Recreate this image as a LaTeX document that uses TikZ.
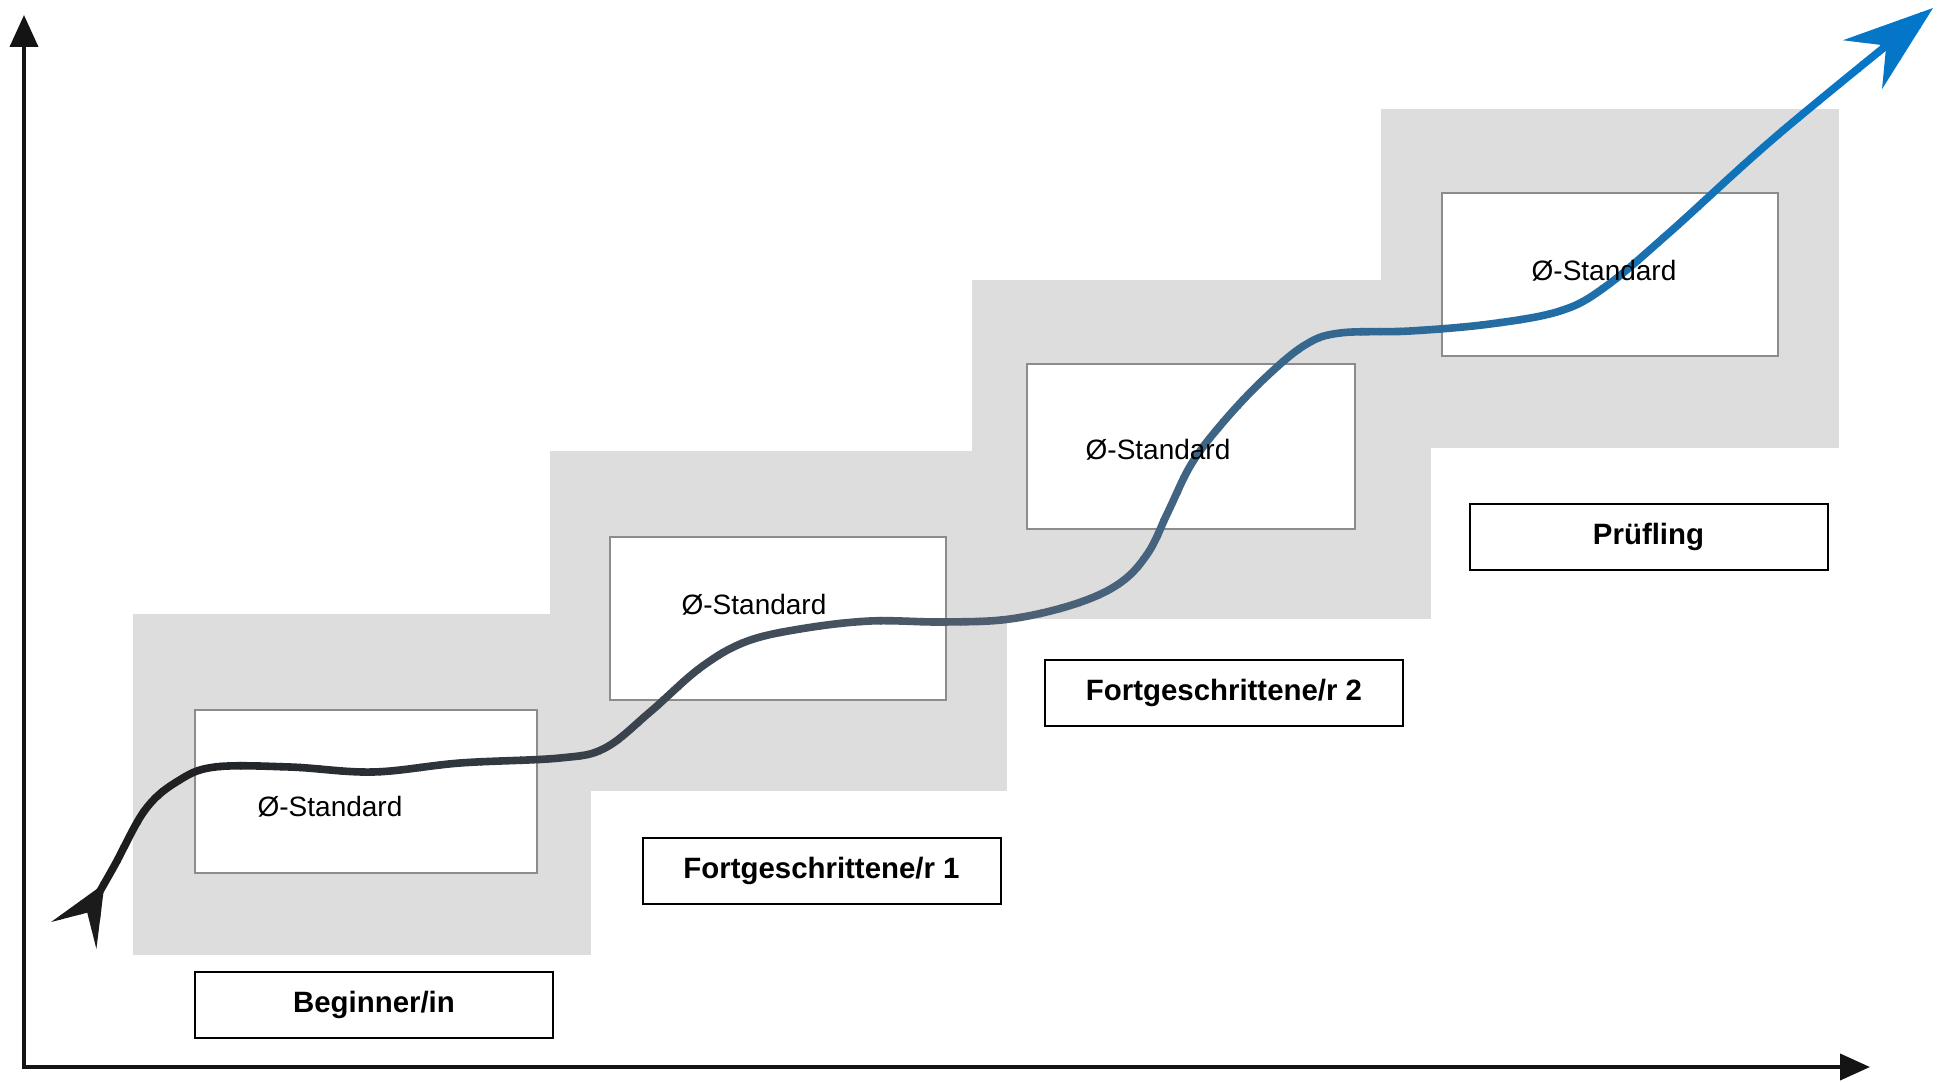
\documentclass[tikz,border=0pt]{standalone}
\usepackage{fontspec}
\setmainfont{Liberation Sans}
\usetikzlibrary{arrows.meta}
\definecolor{blockgray}{RGB}{221,221,221}
\definecolor{boxedge}{RGB}{140,140,140}
\definecolor{cA}{RGB}{25,25,25}
\definecolor{cM}{RGB}{80,95,112}
\definecolor{cB}{RGB}{0,120,205}
\begin{document}
\begin{tikzpicture}[x=0.5pt,y=-0.5pt,
  stair/.style={fill=blockgray, draw=none},
  stdbox/.style={draw=boxedge, line width=0.8pt, fill=white},
  stdtext/.style={font=\fontsize{14}{16}\selectfont, inner sep=0pt, anchor=center},
  levelbox/.style={draw=black, line width=1pt, fill=white, minimum width=179pt,
    minimum height=33pt, font=\fontsize{14.7}{17}\selectfont\bfseries, inner sep=0pt},
  axisline/.style={line width=2pt, draw=black!92, line join=miter},
  curveline/.style={line width=3.8pt}]
\useasboundingbox (0,0) rectangle (1937,1081);

% grey staircase
\fill[stair] (133,614) rectangle (591,955);
\fill[stair] (550,451) rectangle (1007,791);
\fill[stair] (972,280) rectangle (1431,619);
\fill[stair] (1381,109) rectangle (1839,448);

% white standard boxes
\draw[stdbox] (195,710) rectangle (537,873);
\draw[stdbox] (610,537) rectangle (946,700);
\draw[stdbox] (1027,364) rectangle (1355,529);
\draw[stdbox] (1442,193) rectangle (1778,356);

% level labels
\node[levelbox] (l1) at (374,1005) {Beginner/in};
\node[levelbox] (l2) at (821.5,871) {Fortgeschrittene/r 1};
\node[levelbox] (l3) at (1224,693) {Fortgeschrittene/r 2};
\node[levelbox] (l4) at (1648.5,536.5) {Prüfling};

% axes
\coordinate (ytip) at (24,15);
\coordinate (origin) at (24,1067);
\coordinate (xtip) at (1870,1067);
\draw[axisline, {Triangle[length=16pt,width=14pt]}-{Triangle[length=15pt,width=13pt]}]
  (ytip) -- (origin) -- (xtip);

% progress curve with colour gradient along x
\foreach \i in {0,...,96} {
  \pgfmathsetmacro{\xa}{\i*20}
  \pgfmathsetmacro{\xb}{\i*20+21}
  \pgfmathtruncatemacro{\pa}{max(0,min(100,(\xa+10-60)/940*100))}
  \pgfmathtruncatemacro{\pb}{max(0,min(100,(\xa+10-1000)/937*100))}
  \ifnum\pb>0 \colorlet{cc}{cB!\pb!cM}\else\colorlet{cc}{cM!\pa!cA}\fi
  \begin{scope}
    \clip (\xa,-10) rectangle (\xb,1100);
    \draw[curveline, draw=cc,
      {Stealth[reversed,length=30pt,width=26pt,inset=13pt]}-{Stealth[length=45pt,width=31pt,inset=15pt]}]
      plot[smooth, tension=0.6] coordinates {
        (74,935) (112,870) (145,810) (178,781) (215,767) (290,767) (373,772)
        (460,763) (560,758) (605,748) (650,712) (700,668) (745,642) (800,629)
        (870,621) (943,622) (1010,619) (1075,604) (1120,583) (1148,553)
        (1168,512) (1192,463) (1225,420) (1265,378) (1305,345) (1340,333)
        (1410,331) (1490,324) (1560,311) (1605,287) (1670,232) (1780,133)
        (1933,8)};
  \end{scope}
}

% standard texts
\node[stdtext] (s1) at (330,807) {Ø-Standard};
\node[stdtext] (s2) at (754,605) {Ø-Standard};
\node[stdtext] (s3) at (1158,450) {Ø-Standard};
\node[stdtext] (s4) at (1604,271) {Ø-Standard};
\end{tikzpicture}
\end{document}
